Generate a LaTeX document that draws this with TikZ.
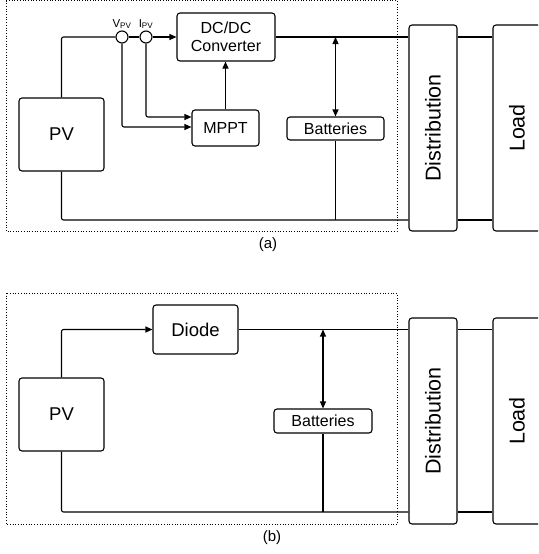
\documentclass[tikz,border=0pt]{standalone}
\usepackage{fontspec}
\setmainfont{Liberation Sans}
\usetikzlibrary{arrows.meta}

\begin{document}
\begin{tikzpicture}[x=1pt, y=-1pt, line width=1.1pt, >={Triangle[length=7pt, width=6pt]},
	blk/.style={draw, rounded corners=3pt, inner sep=0pt, align=center, font=\fontsize{16}{18.5}\selectfont},
	tall/.style={blk, minimum width=48pt, minimum height=206pt},
	vtext/.style={rotate=90, font=\fontsize{21.5}{24}\selectfont},
	sensor/.style={draw, circle, minimum size=12pt, inner sep=0pt},
	sig/.style={font=\fontsize{11.5}{13}\selectfont, inner sep=1pt},
	frame/.style={dotted, line width=0.7pt},
	wire/.style={rounded corners=2pt}]
	\clip (0,0) rectangle (538,554);
	% (a) with DC/DC converter and MPPT
	\draw[frame] (6,0.5) rectangle (397,231);
	\node[blk, minimum width=85pt, minimum height=73pt, font=\fontsize{18.5}{22}\selectfont] (pvA) at (61.5,134.5) {PV};
	\node[blk, minimum width=98pt, minimum height=48pt] (dcdcA) at (226,37) {DC/DC\\Converter};
	\node[blk, minimum width=67pt, minimum height=36pt] (mpptA) at (225.5,128) {MPPT};
	\node[sensor, label={[sig]above:{V\textsubscript{PV}}}] (vA) at (122,37) {};
	\node[sensor, label={[sig]above:{I\textsubscript{PV}}}] (iA) at (146,37) {};
	\node[blk, minimum width=97pt, minimum height=23pt] (batA) at (335.5,128.5) {Batteries};
	\node[tall, label={[vtext]center:Distribution}] (distA) at (433,128) {};
	\node[tall, label={[vtext]center:Load}] (loadA) at (517,128) {};
	\coordinate (busA) at (0,220);
	\draw[wire] (pvA.north) |- (vA.west);
	\draw (vA) -- (iA);
	\draw[->] (iA) -- (dcdcA);
	\draw[->, wire] (vA.south) |- ([yshift=1pt]mpptA.west);
	\draw[->, wire] (iA.south) |- ([yshift=11pt]mpptA.west);
	\draw[->] (mpptA.north) -- (mpptA.north |- dcdcA.south);
	\draw (dcdcA.east) -- (dcdcA.east -| distA.west);
	\draw[<->] (batA.north |- dcdcA.east) -- (batA.north);
	\draw (batA.south) -- (batA.south |- busA);
	\draw[wire] (pvA.south) |- (distA.west |- busA);
	\draw (distA.east |- dcdcA.east) -- (loadA.west |- dcdcA.east);
	\draw (distA.east |- busA) -- (loadA.west |- busA);
	\node[font=\fontsize{15}{18}\selectfont] (capA) at (268,245) {(a)};
	% (b) with diode only
	\draw[frame] (6,293) rectangle (397,524);
	\node[blk, minimum width=85pt, minimum height=73pt, font=\fontsize{18.5}{22}\selectfont] (pvB) at (61.5,414.5) {PV};
	\node[blk, minimum width=85pt, minimum height=49pt, font=\fontsize{18.5}{22}\selectfont] (diodeB) at (195.5,329.5) {Diode};
	\node[blk, minimum width=98pt, minimum height=24pt] (batB) at (323,421) {Batteries};
	\node[tall, label={[vtext]center:Distribution}] (distB) at (433,421) {};
	\node[tall, label={[vtext]center:Load}] (loadB) at (517,421) {};
	\coordinate (busB) at (0,512);
	\draw[->, wire] (pvB.north) |- (diodeB.west);
	\draw (diodeB.east) -- (diodeB.east -| distB.west);
	\draw[<->] (batB.north |- diodeB.east) -- (batB.north);
	\draw (batB.south) -- (batB.south |- busB);
	\draw[wire] (pvB.south) |- (distB.west |- busB);
	\draw (distB.east |- diodeB.east) -- (loadB.west |- diodeB.east);
	\draw (distB.east |- busB) -- (loadB.west |- busB);
	\node[font=\fontsize{15}{18}\selectfont] (capB) at (272,538) {(b)};
\end{tikzpicture}
\end{document}
